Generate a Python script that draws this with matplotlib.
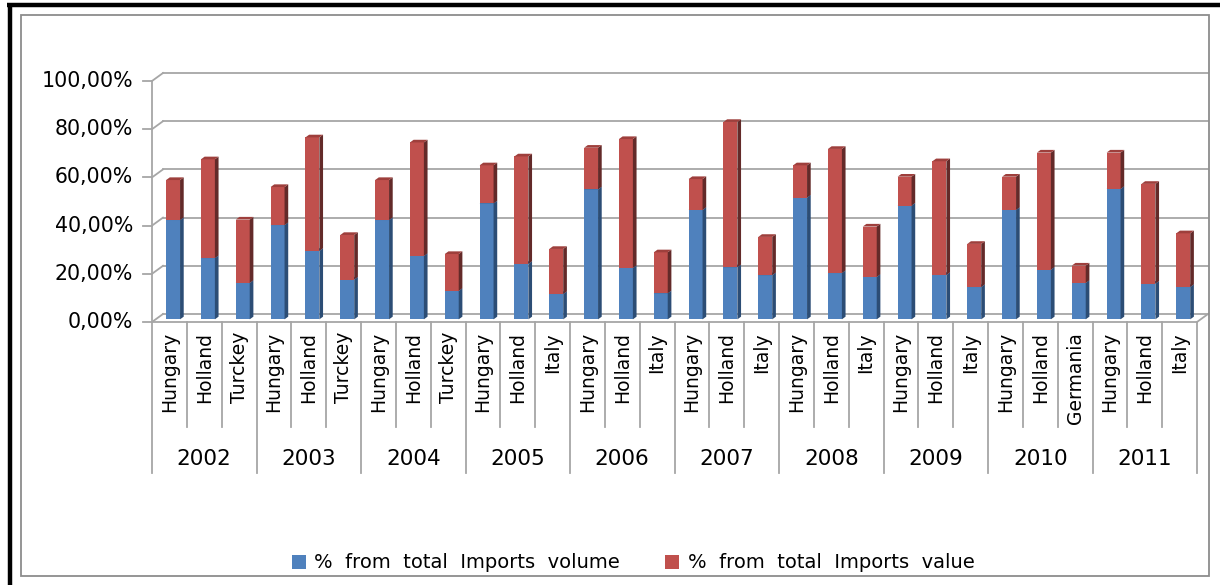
import matplotlib
matplotlib.use("Agg")
import matplotlib.pyplot as plt
from matplotlib.patches import Polygon, Patch, Rectangle
from matplotlib.lines import Line2D

plt.rcParams["font.family"] = ["DejaVu Sans"]

# ---------- data ----------
years = ["2002", "2003", "2004", "2005", "2006", "2007", "2008", "2009", "2010", "2011"]
countries = ["Hungary", "Holland", "Turckey", "Hungary", "Holland", "Turckey",
             "Hungary", "Holland", "Turckey", "Hungary", "Holland", "Italy",
             "Hungary", "Holland", "Italy", "Hungary", "Holland", "Italy",
             "Hungary", "Holland", "Italy", "Hungary", "Holland", "Italy",
             "Hungary", "Holland", "Germania", "Hungary", "Holland", "Italy"]
# % from total Imports volume
volume = [41.2, 25.4, 15.1, 39.1, 28.4, 16.5, 41.2, 26.3, 11.8, 48.1,
          23.0, 10.5, 53.9, 21.3, 10.8, 45.4, 21.6, 18.3, 50.5, 19.2,
          17.6, 47.2, 18.4, 13.4, 45.4, 20.6, 15.1, 54.1, 14.8, 13.4]
# % from total Imports value
value = [16.6, 41.0, 26.3, 15.8, 47.1, 18.5, 16.6, 47.1, 15.3, 15.8,
         44.6, 18.7, 17.3, 53.5, 17.0, 12.8, 60.3, 15.9, 13.4, 51.5,
         20.9, 12.0, 47.2, 17.9, 13.8, 48.6, 7.2, 15.1, 41.4, 22.3]
yticks = [0, 20, 40, 60, 80, 100]
series_names = ["% from total Imports volume", "% from total Imports value"]

W, H = 1220, 585
fig = plt.figure(figsize=(W / 100, H / 100), dpi=100)

def fx(px):
    return px / W

def fy(py):
    return 1 - py / H

# ---------- frame ----------
fig.add_artist(Rectangle((fx(21), fy(576)), fx(1209) - fx(21), fy(15) - fy(576),
                         transform=fig.transFigure, fill=False, ec="#8c8c8c", lw=1.3))
fig.add_artist(Line2D([fx(7), fx(1220)], [fy(5), fy(5)], transform=fig.transFigure,
                      color="black", lw=3.2, solid_capstyle="butt"))
fig.add_artist(Line2D([fx(9.5), fx(9.5)], [fy(3), fy(585)], transform=fig.transFigure,
                      color="black", lw=3.2, solid_capstyle="butt"))

# front plane of the 3D box
x0, x1 = 152, 1197
y0, y1 = 322, 81
ax = fig.add_axes([fx(x0), fy(y0), fx(x1) - fx(x0), fy(y1) - fy(y0)])
n = len(volume)
ax.set_xlim(0, n)
ax.set_ylim(0, 100)
ax.axis("off")

sx = (x1 - x0) / n          # px per category
sy = (y0 - y1) / 100.0      # px per %
DX, DY = 11 / sx, 8 / sy    # depth of the box in data units

grid_c = "#a6a6a6"
# back wall gridlines + left wall diagonals + ticks
for v in yticks:
    ax.plot([DX, n + DX], [v + DY, v + DY], color=grid_c, lw=1.3, zorder=1, clip_on=False)
    ax.plot([0, DX], [v, v + DY], color=grid_c, lw=1.3, zorder=1, clip_on=False)
    ax.plot([-9 / sx, 0], [v, v], color=grid_c, lw=1.3, zorder=1, clip_on=False)
    ax.text(-19 / sx, v, f"{v},00%", ha="right", va="center", fontsize=14.8, clip_on=False)
ax.plot([0, 0], [0, 100], color=grid_c, lw=1.3, zorder=1, clip_on=False)
# floor front edge and right diagonal
ax.plot([0, n], [0, 0], color=grid_c, lw=1.3, zorder=1, clip_on=False)
ax.plot([n, n + DX], [0, DY], color=grid_c, lw=1.3, zorder=1, clip_on=False)

# ---------- 3D stacked bars ----------
bw = 0.40
bdx, bdy = DX / 3, DY / 3
colors = {
    "blue": ("#4f81bd", "#2c4d75", "#3d6698"),
    "red": ("#c0504d", "#632a29", "#9e3f3c"),
}

def bar3d(xc, bottom, height, cols):
    front, side, top = cols
    xl = xc - bw / 2 + bdx
    xr = xc + bw / 2 + bdx
    yb = bottom + bdy
    yt = bottom + height + bdy
    ax.bar(xc + bdx, height, width=bw, bottom=yb, color=front, lw=0, zorder=3)
    ax.add_patch(Polygon([(xr, yb), (xr + bdx, yb + bdy), (xr + bdx, yt + bdy), (xr, yt)],
                         closed=True, fc=side, ec="none", zorder=3))
    ax.add_patch(Polygon([(xl, yt), (xr, yt), (xr + bdx, yt + bdy), (xl + bdx, yt + bdy)],
                         closed=True, fc=top, ec="none", zorder=3))

for i in range(n):
    xc = i + 0.5
    bar3d(xc, 0, volume[i], colors["blue"])
    bar3d(xc, volume[i], value[i], colors["red"])

# ---------- category axis (two levels) ----------
lab_bot = -(427 - y0) / sy
grp_bot = -(473 - y0) / sy
for i in range(n + 1):
    bottom = grp_bot if i % 3 == 0 else lab_bot
    ax.plot([i, i], [0, bottom], color=grid_c, lw=1.3, clip_on=False)
for i, c in enumerate(countries):
    ax.text(i + 0.5, -(332 - y0) / sy, c, rotation=90, ha="center", va="top",
            fontsize=13.5, clip_on=False)
for g, yr in enumerate(years):
    ax.text(3 * g + 1.5, -(459 - y0) / sy, yr, ha="center", va="center",
            fontsize=15.5, clip_on=False)

# ---------- legend ----------
handles = [Patch(fc=colors["blue"][0], ec="none"), Patch(fc=colors["red"][0], ec="none")]
labels = [s.replace(" ", "  ") for s in series_names]
fig.legend(handles, labels, loc="center", bbox_to_anchor=(fx(633), fy(563)),
           ncol=2, frameon=False, fontsize=14, handlelength=0.72, handleheight=0.72,
           handletextpad=0.45, columnspacing=2.3)

fig.savefig("out.png", dpi=100)
